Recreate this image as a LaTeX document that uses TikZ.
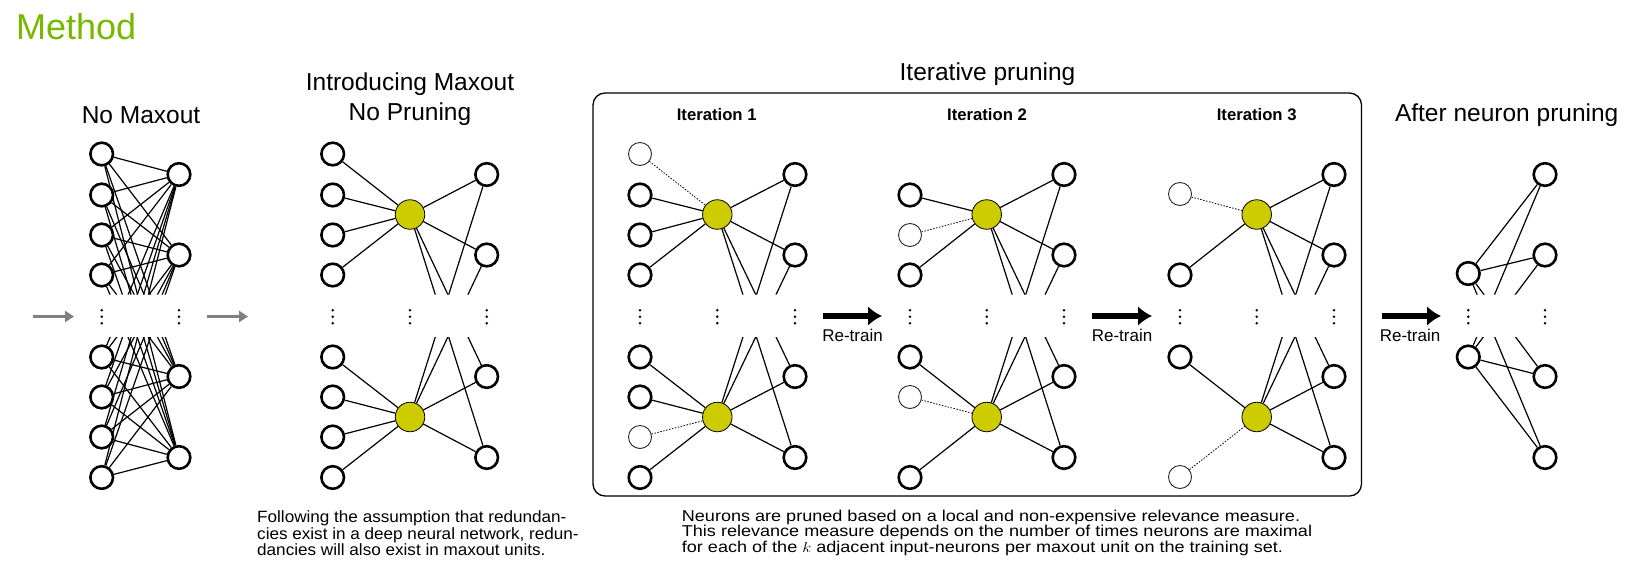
\documentclass[tikz,border=0pt]{standalone}
\usepackage{fontspec}
\setmainfont{Liberation Sans}
\usepackage{graphicx}
\usetikzlibrary{arrows.meta}
\definecolor{nvgreen}{RGB}{118,185,0}
\definecolor{maxy}{RGB}{204,204,0}
\pgfdeclarelayer{bg}
\pgfsetlayers{bg,main}
\begin{document}
\begin{tikzpicture}[x=1pt,y=-1pt,
  neuron/.style={circle,draw,line width=2.6pt,minimum size=22.6pt,inner sep=0pt,fill=white},
  pruned/.style={circle,draw=black!85,line width=0.9pt,minimum size=23pt,inner sep=0pt,fill=white},
  maxu/.style={circle,draw,line width=0.8pt,minimum size=29.5pt,inner sep=0pt,fill=maxy},
  edge/.style={line width=1.2pt},
  weak/.style={line width=0.8pt,dash pattern=on 1.5pt off 1.5pt},
  title/.style={anchor=base,inner sep=0pt,font=\fontsize{24.5}{29}\selectfont},
  itertitle/.style={anchor=base,inner sep=0pt,font=\fontsize{16.7}{20}\selectfont\bfseries},
  retrain/.style={anchor=base,inner sep=0pt,font=\fontsize{17}{20}\selectfont},
  lefttext/.style={anchor=base west,inner sep=0pt,font=\fontsize{16.3}{19}\selectfont},
  righttext/.style={anchor=base west,inner sep=0pt,font=\fontsize{15.7}{18}\selectfont},
  bigarrow/.style={line width=5.2pt,-{Latex[length=14pt,width=20pt]}},
  grayarrow/.style={line width=2.8pt,draw=black!50,-{Triangle[length=9pt,width=11pt]}},
  vd/.pic={\foreach \d in {-6.5,0,6.5} \fill (0,\d) circle (1.4pt);}
]
\useasboundingbox (0,0) rectangle (1646,582);

% ---------- titles ----------
\node[anchor=base west,inner sep=0pt,text=nvgreen,font=\fontsize{36}{40}\selectfont] (method) at (16,39) {Method};
\node[title] (t0) at (141,123.3) {No Maxout};
\node[title] (t1a) at (410,90.5) {Introducing Maxout};
\node[title] (t1b) at (410,120) {No Pruning};
\node[title] (tit) at (987.5,80) {Iterative pruning};
\node[itertitle] (ti1) at (716.7,120.5) {Iteration 1};
\node[itertitle] (ti2) at (987,120.5) {Iteration 2};
\node[itertitle] (ti3) at (1256.7,120.5) {Iteration 3};
\node[title] (taf) at (1506.7,121.5) {After neuron pruning};

% ---------- iterative box ----------
\draw[line width=1.3pt,rounded corners=12pt] (593,93) rectangle (1361.5,496);

% ---------- network 0 : no maxout ----------
\foreach \i/\y in {1/154,2/195,3/235,4/275,5/357,6/397,7/437,8/477.5}
  \node[neuron] (aL\i) at (101.7,\y) {};
\foreach \j/\y in {1/174.5,2/255,3/376.5,4/457.5}
  \node[neuron] (aR\j) at (179,\y) {};

% ---------- network 1 : introducing maxout ----------
\foreach \i/\y in {1/154,2/195,3/235,4/275,5/357,6/397,7/437,8/477.5}
  \node[neuron] (bL\i) at (332.7,\y) {};
\node[maxu] (bM1) at (410,214.5) {};
\node[maxu] (bM2) at (410,417) {};
\foreach \j/\y in {1/174.5,2/255,3/376.5,4/457.5}
  \node[neuron] (bR\j) at (486.7,\y) {};

% ---------- iteration 1 ----------
\node[pruned] (cL1) at (640,154) {};
\foreach \i/\y in {2/195,3/235,4/275,5/357,6/397,8/477.5}
  \node[neuron] (cL\i) at (640,\y) {};
\node[pruned] (cL7) at (640,437) {};
\node[maxu] (cM1) at (717.3,214.5) {};
\node[maxu] (cM2) at (717.3,417) {};
\foreach \j/\y in {1/174.5,2/255,3/376.5,4/457.5}
  \node[neuron] (cR\j) at (795,\y) {};

% ---------- iteration 2 ----------
\node[neuron] (dL1) at (910,195) {};
\node[pruned] (dL2) at (910,235) {};
\node[neuron] (dL3) at (910,275) {};
\node[neuron] (dL4) at (910,357) {};
\node[pruned] (dL5) at (910,397) {};
\node[neuron] (dL6) at (910,477.5) {};
\node[maxu] (dM1) at (986.7,214.5) {};
\node[maxu] (dM2) at (986.7,417) {};
\foreach \j/\y in {1/174.5,2/255,3/376.5,4/457.5}
  \node[neuron] (dR\j) at (1064,\y) {};

% ---------- iteration 3 ----------
\node[pruned] (eL1) at (1180,194) {};
\node[neuron] (eL2) at (1180,275) {};
\node[neuron] (eL3) at (1180,357) {};
\node[pruned] (eL4) at (1180,477) {};
\node[maxu] (eM1) at (1256.7,214.5) {};
\node[maxu] (eM2) at (1256.7,417) {};
\foreach \j/\y in {1/174.5,2/255,3/376.5,4/457.5}
  \node[neuron] (eR\j) at (1334,\y) {};

% ---------- after pruning ----------
\node[neuron] (fL1) at (1468.3,273.5) {};
\node[neuron] (fL2) at (1468.3,357) {};
\foreach \j/\y in {1/174.5,2/255,3/376.5,4/457.5}
  \node[neuron] (fR\j) at (1545,\y) {};

% ---------- vertical dots ----------
\foreach \x in {101.7,179,332.7,410,486.7,640,717.3,795,910,986.7,1064,1180,1256.7,1334,1468.3,1545}
  \pic at (\x,316.7) {vd};

% ---------- edges ----------
\begin{pgfonlayer}{bg}
\begin{scope}
\clip (0,0) rectangle (1646,294.5) (0,337) rectangle (1646,582);
\foreach \i in {1,...,8} \foreach \j in {1,...,4} \draw[edge] (aL\i) -- (aR\j);
\foreach \i in {1,...,4} \draw[edge] (bL\i) -- (bM1);
\foreach \i in {5,...,8} \draw[edge] (bL\i) -- (bM2);
\foreach \m in {1,2} \foreach \j in {1,...,4} \draw[edge] (bM\m) -- (bR\j);
\foreach \i in {2,3,4} \draw[edge] (cL\i) -- (cM1);
\foreach \i in {5,6,8} \draw[edge] (cL\i) -- (cM2);
\foreach \m in {1,2} \foreach \j in {1,...,4} \draw[edge] (cM\m) -- (cR\j);
\foreach \i in {1,3} \draw[edge] (dL\i) -- (dM1);
\foreach \i in {4,6} \draw[edge] (dL\i) -- (dM2);
\foreach \m in {1,2} \foreach \j in {1,...,4} \draw[edge] (dM\m) -- (dR\j);
\draw[edge] (eL2) -- (eM1);
\draw[edge] (eL3) -- (eM2);
\foreach \m in {1,2} \foreach \j in {1,...,4} \draw[edge] (eM\m) -- (eR\j);
\foreach \i in {1,2} \foreach \j in {1,...,4} \draw[edge] (fL\i) -- (fR\j);
\end{scope}
\draw[weak] (cL1) -- (cM1);
\draw[weak] (cL7) -- (cM2);
\draw[weak] (dL2) -- (dM1);
\draw[weak] (dL5) -- (dM2);
\draw[weak] (eL1) -- (eM1);
\draw[weak] (eL4) -- (eM2);
\end{pgfonlayer}

% ---------- arrows ----------
\coordinate (g1a) at (33,316.5);  \coordinate (g1b) at (74,316.5);
\coordinate (g2a) at (207,316.5); \coordinate (g2b) at (248,316.5);
\draw[grayarrow] (g1a) -- (g1b);
\draw[grayarrow] (g2a) -- (g2b);
\coordinate (r1a) at (823,316);  \coordinate (r1b) at (882,316);
\coordinate (r2a) at (1092,316); \coordinate (r2b) at (1152,316);
\coordinate (r3a) at (1382,316); \coordinate (r3b) at (1441,316);
\draw[bigarrow] (r1a) -- (r1b);
\draw[bigarrow] (r2a) -- (r2b);
\draw[bigarrow] (r3a) -- (r3b);
\node[retrain] (rt1) at (852.5,341.5) {Re-train};
\node[retrain] (rt2) at (1122,341.5) {Re-train};
\node[retrain] (rt3) at (1410,341.5) {Re-train};

% ---------- bottom texts ----------
\node[lefttext] (lt1) at (257,522.3) {\scalebox{1.05}[1]{Following the assumption that redundan-}};
\node[lefttext] (lt2) at (257,539) {\scalebox{1.05}[1]{cies exist in a deep neural network, redun-}};
\node[lefttext] (lt3) at (257,555.7) {\scalebox{1.05}[1]{dancies will also exist in maxout units.}};
\node[righttext] (rt1x) at (681.7,521.7) {\scalebox{1.15}[1]{Neurons are pruned based on a local and non-expensive relevance measure.}};
\node[righttext] (rt2x) at (681.7,536.9) {\scalebox{1.15}[1]{This relevance measure depends on the number of times neurons are maximal}};
\node[righttext] (rt3x) at (681.7,552.1) {\scalebox{1.15}[1]{for each of the $k$ adjacent input-neurons per maxout unit on the training set.}};
\end{tikzpicture}
\end{document}
